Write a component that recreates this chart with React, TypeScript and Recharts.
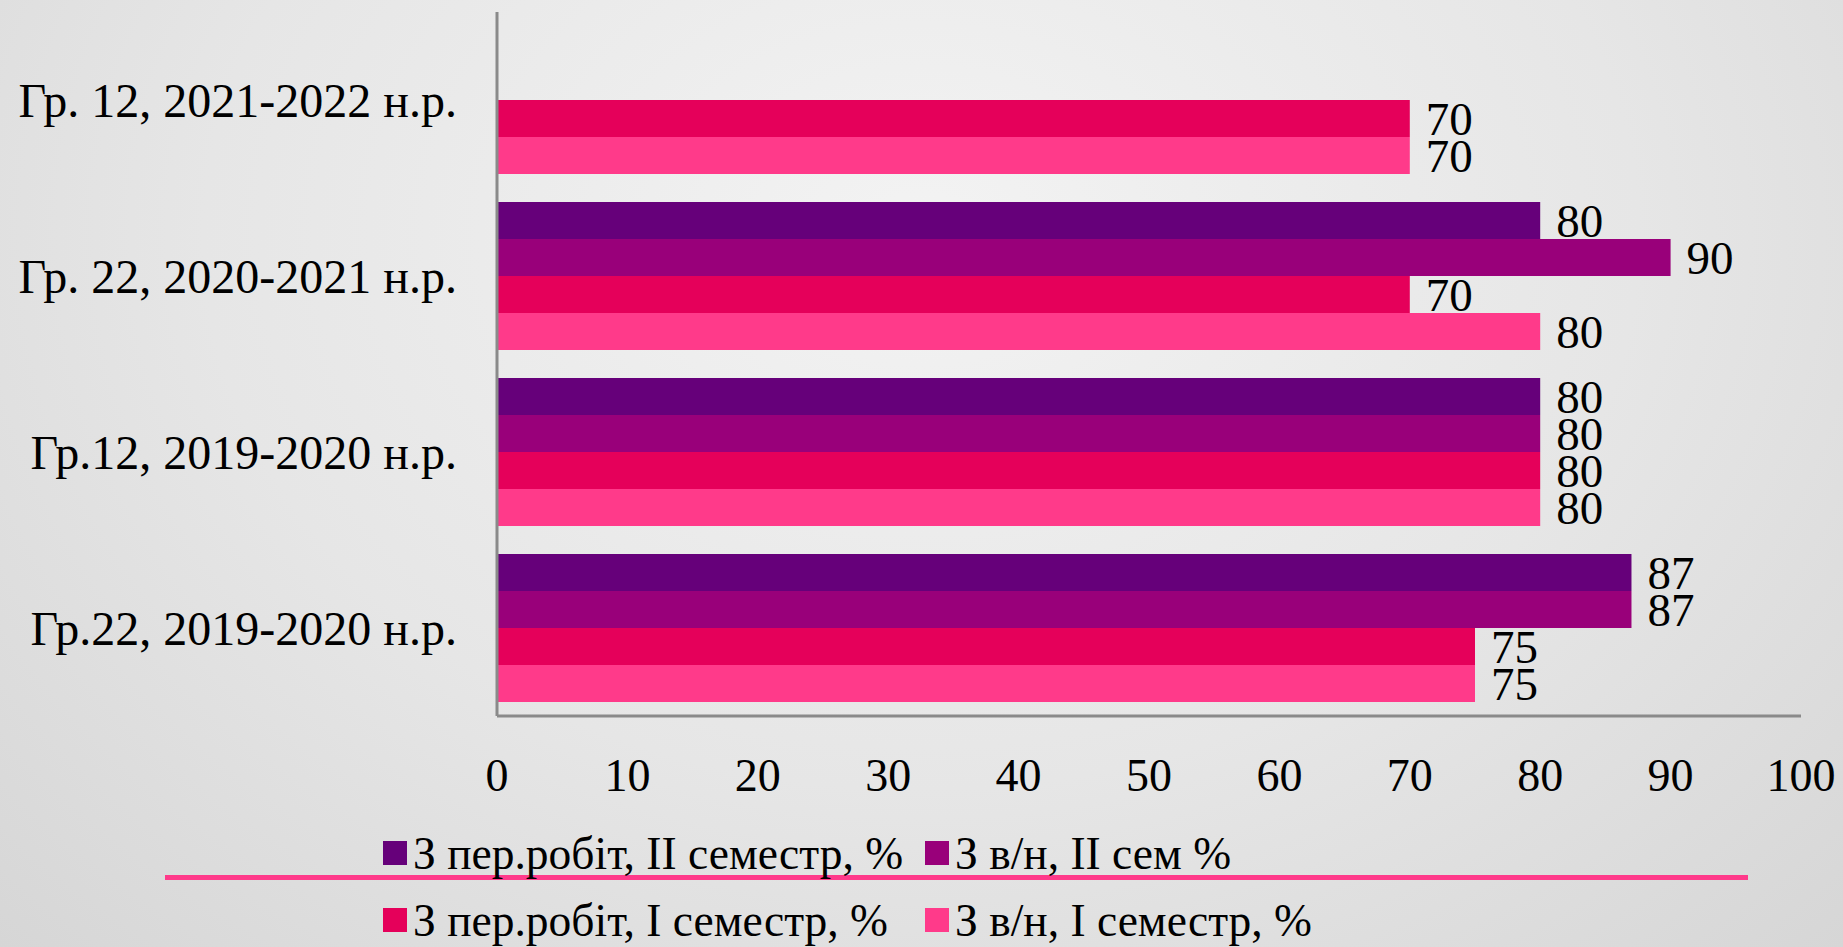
import { Bar, BarChart, LabelList, XAxis, YAxis } from "recharts"

const categories = [
  "Гр. 12, 2021-2022 н.р.",
  "Гр. 22, 2020-2021 н.р.",
  "Гр.12, 2019-2020 н.р.",
  "Гр.22, 2019-2020 н.р.",
]
const perRobitII = [null, 80, 80, 87]
const vnII = [null, 90, 80, 87]
const perRobitI = [70, 70, 80, 75]
const vnI = [70, 80, 80, 75]
const xTicks = [0, 10, 20, 30, 40, 50, 60, 70, 80, 90, 100]

const seriesNames = [
  "З пер.робіт, II семестр, %",
  "З в/н, II сем %",
  "З пер.робіт, I семестр, %",
  "З в/н, I семестр, %",
]
const seriesColors = ["#66007a", "#99007a", "#e5005a", "#ff3a8a"]
const seriesValues = [perRobitII, vnII, perRobitI, vnI]

const FONT = '"Liberation Serif", "Times New Roman", serif'

const data = categories.map((name, i) => {
  const row: Record<string, string | number | null> = { name }
  seriesValues.forEach((vals, s) => {
    row[`s${s}`] = vals[i]
  })
  return row
})

export default function App() {
  return (
    <div
      style={{
        position: "absolute",
        left: 0,
        top: 0,
        width: 1843,
        height: 947,
        overflow: "hidden",
        background: "radial-gradient(ellipse at 50% 25%, #f3f3f3 0%, #e6e6e6 55%, #d6d6d6 100%)",
        fontFamily: FONT,
      }}
    >
      <BarChart
        width={1843}
        height={800}
        data={data}
        layout="vertical"
        margin={{ top: 12, right: 42, left: 0, bottom: 24 }}
        barCategoryGap="8%"
        barGap={0}
      >
        <XAxis
          type="number"
          domain={[0, 100]}
          ticks={xTicks}
          height={60}
          axisLine={{ stroke: "#8a8a8a", strokeWidth: 3 }}
          tickLine={false}
          tickSize={0}
          tickMargin={42}
          tick={{ fontSize: 46, fill: "#000", fontFamily: FONT }}
        />
        <YAxis
          type="category"
          dataKey="name"
          width={497}
          axisLine={{ stroke: "#8a8a8a", strokeWidth: 3 }}
          tickLine={false}
          tickSize={0}
          tickMargin={40}
          tick={{ fontSize: 48, fill: "#000", fontFamily: FONT }}
        />
        {seriesNames.map((n, s) => (
          <Bar key={n} dataKey={`s${s}`} name={n} fill={seriesColors[s]} isAnimationActive={false}>
            <LabelList
              dataKey={`s${s}`}
              position="right"
              offset={16}
              fill="#000"
              fontSize={47}
              fontFamily={FONT}
              formatter={(v: any) => (v == null ? "" : v)}
            />
          </Bar>
        ))}
      </BarChart>

      {/* legend: two rows, pink rule between them */}
      <div style={{ position: "absolute", left: 165, top: 875, width: 1583, height: 5, background: "#ff3a8a" }} />
      {seriesNames.map((n, s) => (
        <div
          key={n}
          style={{
            position: "absolute",
            left: s % 2 === 0 ? 383 : 925,
            top: s < 2 ? 826 : 893,
            height: 54,
            display: "flex",
            alignItems: "center",
            fontSize: 45.5,
            color: "#000",
            whiteSpace: "nowrap",
          }}
        >
          <span style={{ display: "inline-block", width: 24, height: 24, background: seriesColors[s], marginRight: 6 }} />
          {n}
        </div>
      ))}
    </div>
  )
}
